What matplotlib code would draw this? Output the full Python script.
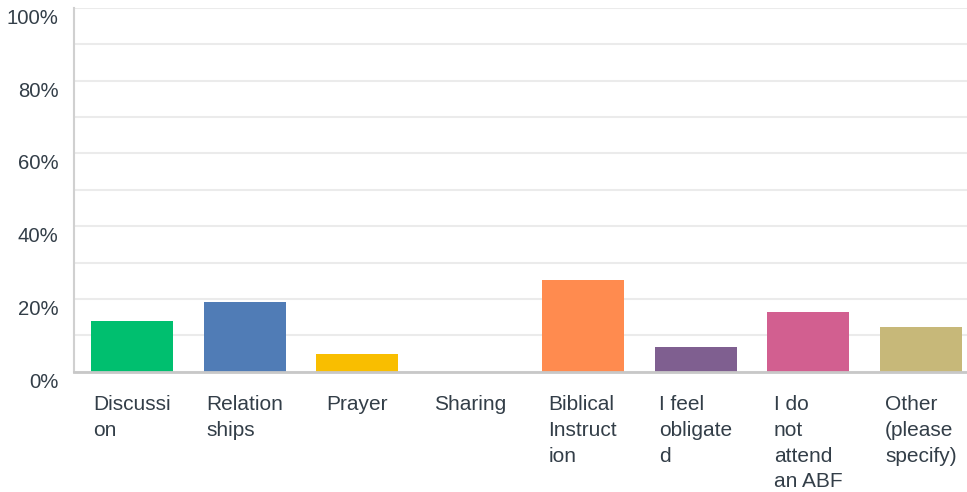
import matplotlib.pyplot as plt
import matplotlib.transforms as mtransforms

# Chart data
categories = [
    "Discussi\non",
    "Relation\nships",
    "Prayer",
    "Sharing",
    "Biblical\nInstruct\nion",
    "I feel\nobligate\nd",
    "I do\nnot\nattend\nan ABF",
    "Other\n(please\nspecify)",
]
values = [13.9, 19.2, 4.8, 0.0, 25.2, 6.8, 16.4, 12.3]
bar_colors = [
    "#00BF6F",
    "#507CB6",
    "#F9BE00",
    "#6BC8CD",
    "#FF8B4F",
    "#7F5F90",
    "#D25F90",
    "#C7B879",
]
ytick_values = [0, 20, 40, 60, 80, 100]
ytick_labels = ["0%", "20%", "40%", "60%", "80%", "100%"]

# Style
FONT = "Liberation Sans"
COLOR_TEXT = "#333E48"
COLOR_GRID = "#EBEBEB"
COLOR_AXIS = "#D0D0D0"


def main():
    fig = plt.figure(figsize=(9.67, 4.92), dpi=100)
    ax = fig.add_axes([0.0765, 0.2447, 0.9324, 0.739])

    x = list(range(len(categories)))
    ax.bar(x, values, width=0.728, color=bar_colors, zorder=2)

    # Axis limits and grid
    ax.set_xlim(-0.515, 7.485)
    ax.set_ylim(0, 100)
    ax.set_axisbelow(True)

    # Gridline every 10%, labels every 20%
    ax.set_yticks(ytick_values)
    ax.set_yticks(range(10, 100, 20), minor=True)
    ax.yaxis.grid(True, which="both", color=COLOR_GRID, lw=1.5, zorder=0)
    ax.set_yticklabels(ytick_labels, fontsize=14.6, color=COLOR_TEXT, family=FONT)
    ax.tick_params(axis="y", which="both", length=0, pad=11)
    # The labels sit a bit below their gridlines
    shift = mtransforms.ScaledTranslation(0, -8.5 / 100, fig.dpi_scale_trans)
    for lbl in ax.get_yticklabels():
        lbl.set_transform(lbl.get_transform() + shift)

    ax.set_xticks(x)
    ax.set_xticklabels(categories, fontsize=15, color=COLOR_TEXT, family=FONT,
                       va="top", ha="center", linespacing=1.45)
    for lbl in ax.get_xticklabels():
        lbl.set_multialignment("left")
    ax.tick_params(axis="x", length=0, pad=17)

    # Spines
    for side in ["top", "right"]:
        ax.spines[side].set_visible(False)
    ax.spines["left"].set_color(COLOR_AXIS)
    ax.spines["left"].set_linewidth(1.5)
    ax.spines["bottom"].set_color("#C8C8C8")
    ax.spines["bottom"].set_linewidth(2)

    fig.savefig("out.png", dpi=100)
    plt.close(fig)


if __name__ == "__main__":
    main()
